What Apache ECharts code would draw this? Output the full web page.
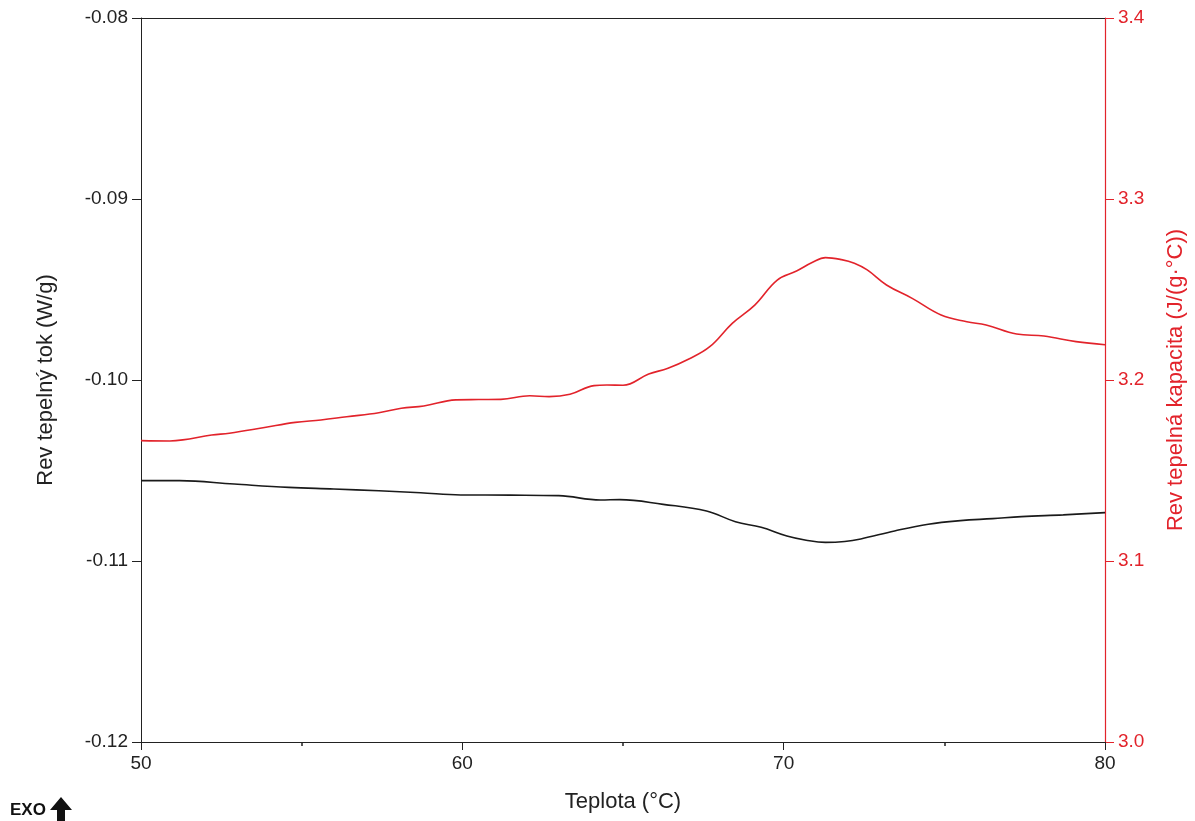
<!DOCTYPE html>
<html>
<head>
<meta charset="utf-8">
<script src="https://cdn.jsdelivr.net/npm/echarts@6/dist/echarts.min.js"></script>
<style>
html,body{margin:0;padding:0;background:#fff;overflow:hidden;}
#chart{width:1195px;height:821px;}
</style>
</head>
<body>
<div id="chart"></div>
<script>
// Rev heat flow (W/g) — black curve
const flowTemps = [50.0, 51.2, 52.9, 54.6, 56.0, 57.4, 58.7, 59.95, 61.5, 63.0, 64.3, 64.9, 66.25, 67.6, 68.5, 69.3, 70.1, 70.7, 71.3, 71.9, 72.4, 73.45, 74.5, 75.5, 76.5, 77.4, 78.7, 80.0];
const flowValues = [-0.10556, -0.10556, -0.10575, -0.10593, -0.10602, -0.10612, -0.10623, -0.10635, -0.10636, -0.10639, -0.10663, -0.10661, -0.10687, -0.10724, -0.10783, -0.10814, -0.10862, -0.10885, -0.10897, -0.10892, -0.10878, -0.10834, -0.10797, -0.10777, -0.10766, -0.10755, -0.10745, -0.10733];

// Rev heat capacity (J/(g·°C)) — red curve
const capTemps = [50.0, 50.9, 51.3, 52.2, 52.75, 53.8, 54.8, 55.6, 56.4, 57.4, 58.1, 58.8, 59.8, 60.5, 61.2, 62.1, 62.7, 63.35, 64.1, 64.5, 65.0, 65.8, 66.4, 67.05, 67.7, 68.4, 69.1, 69.8, 70.4, 70.9, 71.3, 71.8, 72.2, 72.6, 73.2, 74.0, 74.9, 75.7, 76.3, 77.25, 78.1, 79.1, 80.0];
const capValues = [3.1665, 3.1663, 3.1669, 3.1696, 3.1706, 3.1736, 3.1766, 3.1779, 3.1797, 3.1819, 3.1844, 3.1856, 3.1890, 3.1892, 3.1893, 3.1913, 3.1908, 3.1921, 3.1969, 3.1972, 3.1971, 3.2033, 3.2065, 3.2116, 3.2184, 3.2313, 3.2414, 3.2552, 3.2602, 3.2650, 3.2676, 3.2665, 3.2645, 3.2608, 3.2525, 3.2451, 3.2359, 3.2322, 3.2304, 3.2254, 3.2243, 3.2212, 3.2195];

// Axis ticks
const xTicks = [50, 60, 70, 80];
const leftTicks = [-0.12, -0.11, -0.10, -0.09, -0.08];
const rightTicks = [3.0, 3.1, 3.2, 3.3, 3.4];

const RED = '#e2232b';
const FONT = 'Liberation Sans, Arial, sans-serif';

const chart = echarts.init(document.getElementById('chart'), null, {renderer: 'canvas', width: 1195, height: 821});

const zip = (a, b) => a.map((v, i) => [v, b[i]]);

chart.setOption({
  backgroundColor: '#ffffff',
  animation: false,
  grid: {left: 141, width: 971, top: 18, height: 724, show: false},
  xAxis: [
    {
      type: 'value', min: xTicks[0], max: xTicks[xTicks.length - 1], interval: 10,
      position: 'bottom',
      name: 'Teplota (°C)', nameLocation: 'middle', nameGap: 49,
      nameTextStyle: {fontFamily: FONT, fontSize: 22, color: '#222'},
      axisLine: {lineStyle: {color: '#222', width: 1}},
      axisTick: {show: true, length: 8, lineStyle: {color: '#222'}},
      minorTick: {show: true, splitNumber: 2, length: 4, lineStyle: {color: '#222', width: 1.5}},
      axisLabel: {fontFamily: FONT, fontSize: 19, color: '#222', margin: 12},
      splitLine: {show: false}
    },
    {
      type: 'value', min: xTicks[0], max: xTicks[xTicks.length - 1], interval: 10,
      position: 'top',
      axisLine: {show: true, lineStyle: {color: '#222', width: 1}},
      axisTick: {show: false},
      axisLabel: {show: false},
      splitLine: {show: false}
    }
  ],
  yAxis: [
    {
      type: 'value', min: leftTicks[0], max: leftTicks[leftTicks.length - 1], interval: 0.01,
      position: 'left',
      name: 'Rev tepelný tok (W/g)', nameLocation: 'middle', nameGap: 84,
      nameTextStyle: {fontFamily: FONT, fontSize: 22, color: '#222'},
      axisLine: {show: true, lineStyle: {color: '#222', width: 1}},
      axisTick: {show: true, length: 9, lineStyle: {color: '#222'}},
      axisLabel: {fontFamily: FONT, fontSize: 19, color: '#222', margin: 13,
        formatter: v => v.toFixed(2)},
      splitLine: {show: false}
    },
    {
      type: 'value', min: rightTicks[0], max: rightTicks[rightTicks.length - 1], interval: 0.1,
      position: 'right',
      name: 'Rev tepelná kapacita (J/(g·°C))', nameLocation: 'middle', nameGap: 60,
      nameRotate: 90,
      nameTextStyle: {fontFamily: FONT, fontSize: 22, color: RED},
      axisLine: {show: true, lineStyle: {color: RED, width: 1.2}},
      axisTick: {show: true, length: 9, lineStyle: {color: RED}},
      axisLabel: {fontFamily: FONT, fontSize: 19, color: RED, margin: 13,
        formatter: v => v.toFixed(1)},
      splitLine: {show: false}
    }
  ],
  series: [
    {
      type: 'line', xAxisIndex: 0, yAxisIndex: 0, data: zip(flowTemps, flowValues),
      smooth: 0.4, showSymbol: false, lineStyle: {color: '#1a1a1a', width: 1.6}
    },
    {
      type: 'line', xAxisIndex: 0, yAxisIndex: 1, data: zip(capTemps, capValues),
      smooth: 0.4, showSymbol: false, lineStyle: {color: RED, width: 1.6}
    }
  ],
  graphic: [
    {type: 'text', left: 10, top: 802, style: {text: 'EXO', fontFamily: FONT, fontSize: 17, fontWeight: 'bold', fill: '#111'}},
    {type: 'polygon', shape: {points: [[61, 797], [72, 810], [65, 810], [65, 821], [57, 821], [57, 810], [50, 810]]}, style: {fill: '#111'}}
  ]
});
</script>
</body>
</html>
